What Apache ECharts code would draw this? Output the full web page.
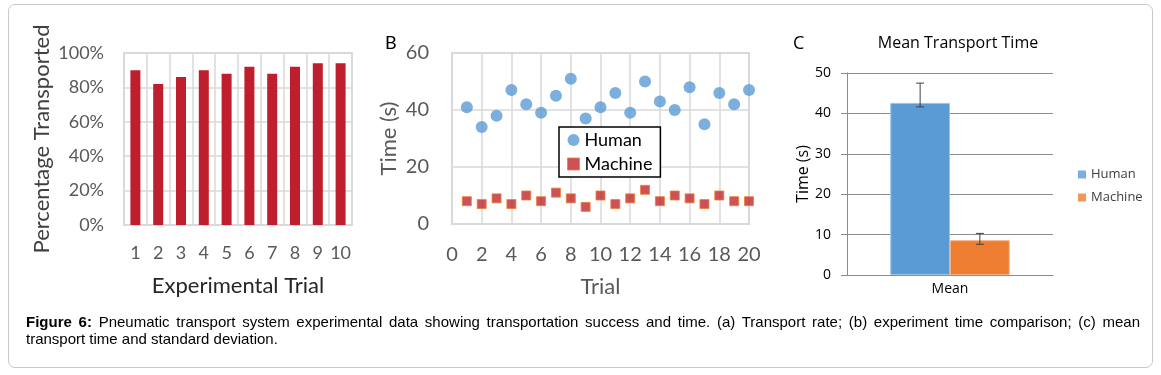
<!DOCTYPE html>
<html>
<head>
<meta charset="utf-8">
<script src="https://cdn.jsdelivr.net/npm/echarts@6/dist/echarts.min.js"></script>
<style>
  body { margin: 0; background: #fff; }
  #frame { position: absolute; left: 8px; top: 4px; width: 1143px; height: 362px;
           border: 1.5px solid #c8c8c8; border-radius: 7px; }
  #chart { position: absolute; left: 0; top: 0; width: 1161px; height: 375px; }
  #caption { position: absolute; left: 26px; top: 313px; width: 1114px;
             font-family: "Liberation Sans", Arial, sans-serif; font-size: 15px;
             line-height: 17px; color: #000; }
  #caption .l1 { text-align: justify; text-align-last: justify; white-space: nowrap; }
</style>
</head>
<body>
<div id="frame"></div>
<div id="chart"></div>
<div id="caption">
  <div class="l1"><b>Figure 6:</b> Pneumatic transport system experimental data showing transportation success and time. (a) Transport rate; (b) experiment time comparison; (c) mean</div>
  <div>transport time and standard deviation.</div>
</div>
<script>
/* panel A: transport rate */
var rateTrials = ['1', '2', '3', '4', '5', '6', '7', '8', '9', '10'];
var rateValues = [90, 82, 86, 90, 88, 92, 88, 92, 94, 94];

/* panel B: time per trial */
var trialNumbers = [1, 2, 3, 4, 5, 6, 7, 8, 9, 10, 11, 12, 13, 14, 15, 16, 17, 18, 19, 20];
var humanTimes = [41, 34, 38, 47, 42, 39, 45, 51, 37, 41, 46, 39, 50, 43, 40, 48, 35, 46, 42, 47];
var machineTimes = [8, 7, 9, 7, 10, 8, 11, 9, 6, 10, 7, 9, 12, 8, 10, 9, 7, 10, 8, 8];

/* panel C: mean time with error range */
var meanLabels = ['Mean'];
var meanHuman = [42.6];
var meanMachine = [8.6];
var humanRange = [41.6, 47.5];
var machineRange = [7.6, 10.3];

var gapRatio = 0.42;
var excelFont = 'Lato';
var segoeFont = 'Open Sans';

function pairs(xs, ys) {
    return xs.map(function (x, i) { return [x, ys[i]]; });
}

function renderError(params, api) {
    var idx = api.value(0);
    var low = api.coord([idx, api.value(1)]);
    var high = api.coord([idx, api.value(2)]);
    var band = api.size([1, 0])[0];
    var barW = band * (1 - gapRatio) / 2;
    var x = low[0] + (api.value(3) - 0.5) * barW;
    var cap = 4;
    var st = { stroke: '#404040', lineWidth: 1 };
    return {
        type: 'group',
        children: [
            { type: 'line', shape: { x1: x, y1: low[1], x2: x, y2: high[1] }, style: st },
            { type: 'line', shape: { x1: x - cap, y1: high[1], x2: x + cap, y2: high[1] }, style: st },
            { type: 'line', shape: { x1: x - cap, y1: low[1], x2: x + cap, y2: low[1] }, style: st }
        ]
    };
}

var chart = echarts.init(document.getElementById('chart'));

var lightGrid = { lineStyle: { color: '#d9d9d9', width: 1.5 } };

var option = {
    animation: false,
    graphic: [
        { type: 'text', left: 385, top: 34, style: { text: 'B', font: '18px ' + excelFont, fill: '#000' } },
        { type: 'text', left: 793, top: 35, style: { text: 'C', font: '18px "' + segoeFont + '"', fill: '#000' } },
        { type: 'text', x: 958, y: 43, style: { text: 'Mean Transport Time', font: '16px "' + segoeFont + '"',
            fill: '#000', align: 'center', verticalAlign: 'middle' } }
    ],
    legend: [
        {
            orient: 'vertical', left: 559, top: 127, selectedMode: false,
            backgroundColor: '#fff', borderColor: '#000', borderWidth: 1.5,
            padding: [3, 8, 3, 8], itemGap: 4, itemWidth: 12, itemHeight: 12,
            textStyle: { fontFamily: excelFont, fontSize: 18, color: '#000', lineHeight: 20 },
            data: [
                { name: 'Human', icon: 'circle' },
                { name: 'Machine', icon: 'rect', itemStyle: { color: '#C0272D', borderColor: '#ED7D31', borderWidth: 1 } }
            ]
        },
        {
            orient: 'vertical', left: 1073, top: 163, selectedMode: false,
            itemGap: 10, itemWidth: 8, itemHeight: 8,
            textStyle: { fontFamily: segoeFont, fontSize: 13, color: '#404040' },
            data: [
                { name: 'Human', icon: 'rect', itemStyle: { color: '#5B9BD5', borderWidth: 0 } },
                { name: 'Machine', icon: 'rect', itemStyle: { color: '#ED7D31', borderWidth: 0 } }
            ]
        }
    ],
    grid: [
        { left: 124, top: 53, width: 228, height: 172, show: true, borderColor: '#d9d9d9', borderWidth: 2 },
        { left: 452, top: 53, width: 297, height: 171, show: true, borderColor: '#d9d9d9', borderWidth: 2 },
        { left: 847, top: 73, width: 206, height: 202 }
    ],
    xAxis: [
        {
            gridIndex: 0, type: 'category', data: rateTrials,
            name: 'Experimental Trial', nameLocation: 'middle', nameGap: 50,
            nameTextStyle: { fontFamily: excelFont, fontSize: 22, color: '#262626' },
            axisLine: { lineStyle: { color: '#d9d9d9', width: 2 } },
            axisTick: { show: false },
            axisLabel: { margin: 19, fontFamily: excelFont, fontSize: 18, color: '#595959', interval: 0 },
            splitLine: { show: true, interval: 0, lineStyle: lightGrid.lineStyle }
        },
        {
            gridIndex: 1, type: 'value', min: 0, max: 20, interval: 2,
            name: 'Trial', nameLocation: 'middle', nameGap: 52,
            nameTextStyle: { fontFamily: excelFont, fontSize: 22, color: '#595959' },
            axisLine: { lineStyle: { color: '#d9d9d9', width: 2 } },
            axisTick: { show: false },
            axisLabel: { margin: 21, fontFamily: excelFont, fontSize: 20, color: '#595959' },
            splitLine: lightGrid
        },
        {
            gridIndex: 2, type: 'category', data: meanLabels,
            axisLine: { lineStyle: { color: '#8c8c8c', width: 1 } },
            axisTick: { show: false },
            axisLabel: { margin: 7, fontFamily: segoeFont, fontSize: 14, color: '#000' }
        }
    ],
    yAxis: [
        {
            gridIndex: 0, type: 'value', min: 0, max: 100, interval: 20,
            name: 'Percentage Transported', nameLocation: 'middle', nameGap: 71,
            nameTextStyle: { fontFamily: excelFont, fontSize: 22, color: '#404040' },
            axisLine: { show: false }, axisTick: { show: false },
            axisLabel: { margin: 20, formatter: '{value}%', fontFamily: excelFont, fontSize: 18, color: '#595959' },
            splitLine: lightGrid
        },
        {
            gridIndex: 1, type: 'value', min: 0, max: 60, interval: 20,
            name: 'Time (s)', nameLocation: 'middle', nameGap: 52,
            nameTextStyle: { fontFamily: excelFont, fontSize: 22, color: '#595959' },
            axisLine: { show: false }, axisTick: { show: false },
            axisLabel: { margin: 23, fontFamily: excelFont, fontSize: 20, color: '#595959' },
            splitLine: lightGrid
        },
        {
            gridIndex: 2, type: 'value', min: 0, max: 50, interval: 10,
            name: 'Time (s)', nameLocation: 'middle', nameGap: 36,
            nameTextStyle: { fontFamily: segoeFont, fontSize: 16, color: '#000' },
            axisLine: { show: true, lineStyle: { color: '#8c8c8c', width: 1 } },
            axisTick: { show: true, length: 6, lineStyle: { color: '#8c8c8c' } },
            axisLabel: { margin: 16, fontFamily: segoeFont, fontSize: 14, color: '#000' },
            splitLine: { lineStyle: { color: '#8c8c8c', width: 1 } }
        }
    ],
    series: [
        {
            name: 'Rate', type: 'bar', xAxisIndex: 0, yAxisIndex: 0,
            barWidth: 10, itemStyle: { color: '#BE1E2D' }, data: rateValues
        },
        {
            name: 'Human', type: 'scatter', xAxisIndex: 1, yAxisIndex: 1,
            symbol: 'circle', symbolSize: 12, itemStyle: { color: '#5B9BD5' },
            data: pairs(trialNumbers, humanTimes)
        },
        {
            name: 'Machine', type: 'scatter', xAxisIndex: 1, yAxisIndex: 1,
            symbol: 'rect', symbolSize: 9,
            itemStyle: { color: '#C0272D', borderColor: '#ED7D31', borderWidth: 1 },
            data: pairs(trialNumbers, machineTimes)
        },
        {
            name: 'Human', type: 'bar', xAxisIndex: 2, yAxisIndex: 2,
            barGap: '0%', barCategoryGap: (gapRatio * 100) + '%',
            itemStyle: { color: '#5B9BD5', borderColor: '#9DC3E6', borderWidth: 1 },
            data: meanHuman
        },
        {
            name: 'Machine', type: 'bar', xAxisIndex: 2, yAxisIndex: 2,
            barGap: '0%', barCategoryGap: (gapRatio * 100) + '%',
            itemStyle: { color: '#ED7D31', borderColor: '#F4B183', borderWidth: 1 },
            data: meanMachine
        },
        {
            name: 'Error', type: 'custom', xAxisIndex: 2, yAxisIndex: 2,
            renderItem: renderError, z: 10,
            data: [
                [0, humanRange[0], humanRange[1], 0],
                [0, machineRange[0], machineRange[1], 1]
            ]
        }
    ]
};

chart.setOption(option);
</script>
</body>
</html>
